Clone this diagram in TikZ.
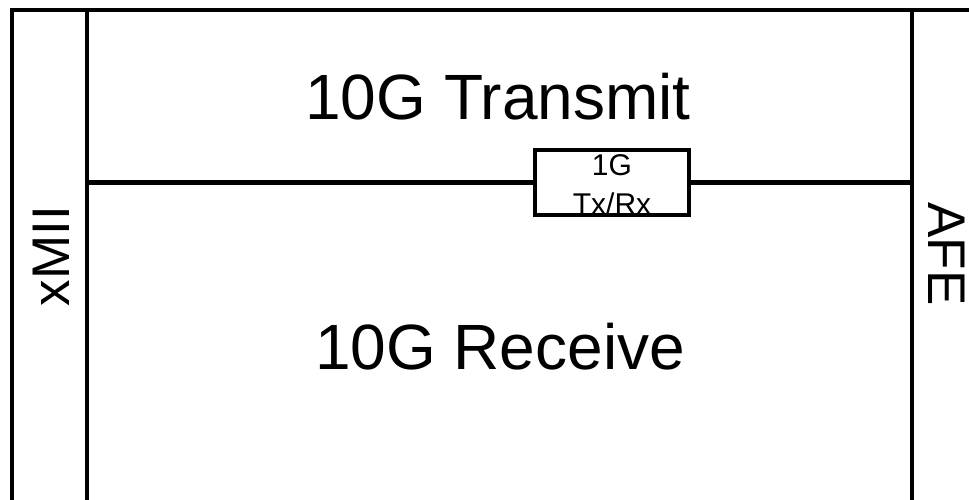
\documentclass[tikz,border=0pt]{standalone}
\usepackage{fontspec}
\setmainfont{Liberation Sans}
\usepackage{tikz}
\usetikzlibrary{positioning,calc}

\begin{document}
\begin{tikzpicture}[
    x=1pt, y=-1pt,
    frame/.style={line width=4.5pt},
    phybox/.style={rectangle, draw, line width=4.5pt, fill=white,
        minimum width=154pt, minimum height=64.5pt, inner sep=0pt},
    bigtext/.style={font=\fontsize{64}{70}\selectfont, anchor=base, inner sep=0pt},
    sidetext/.style={font=\fontsize{53}{60}\selectfont, inner sep=0pt},
    boxtext/.style={font=\fontsize{30}{39}\selectfont, align=center, inner sep=0pt}
]
\useasboundingbox (0,0) rectangle (969,500);
% frame corners and free ends
\coordinate (topright) at (969,10);
\coordinate (topleft) at (12,10);
\coordinate (botleft) at (12,500);
\coordinate (xmiitop) at (87,10);
\coordinate (xmiibot) at (87,500);
\coordinate (afetop) at (912,10);
\coordinate (afebot) at (912,500);
\coordinate (midleft) at (87,182.5);
\coordinate (midright) at (912,182.5);
\draw[frame] (topright) -- (topleft) -- (botleft);
\draw[frame] (xmiitop) -- (xmiibot);
\draw[frame] (afetop) -- (afebot);
% 1G block on the middle line
\node[phybox] (onegbox) at (612,182.5) {};
\draw[frame] (midleft) -- (onegbox.west);
\draw[frame] (onegbox.east) -- (midright);
\node[boxtext] (onegtext) at ([yshift=-2pt]onegbox.center) {1G\\Tx/Rx};
% labels
\node[bigtext] (transmit) at (498,120) {10G Transmit};
\node[bigtext] (receive) at (500,369) {10G Receive};
\node[sidetext, rotate=90] (xmii) at (51,256) {xMII};
\node[sidetext, rotate=-90] (afe) at (947,254) {AFE};
\end{tikzpicture}
\end{document}
